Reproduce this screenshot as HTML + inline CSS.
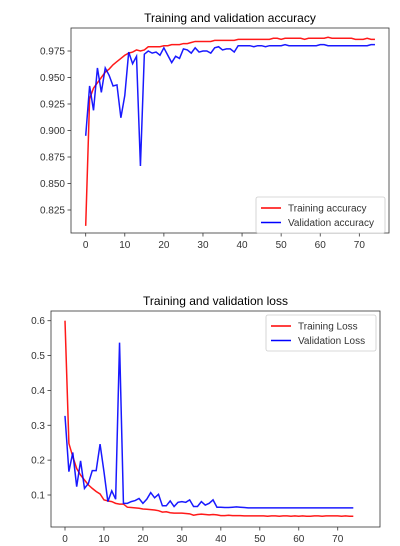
<!DOCTYPE html>
<html><head><meta charset="utf-8"><style>
body{margin:0;background:#fff;font-family:"Liberation Sans","DejaVu Sans",sans-serif}
svg{display:block}
</style></head><body>
<svg id="s" width="400" height="546" font-family="Liberation Sans, DejaVu Sans, sans-serif"></svg>
<script>
const epochs=[];for(let i=0;i<75;i++)epochs.push(i);
const accTrain=[0.81,0.93,0.94,0.945,0.95,0.955,0.958,0.962,0.965,0.968,0.971,0.973,0.974,0.976,0.975,0.976,0.979,0.979,0.979,0.979,0.980,0.980,0.981,0.981,0.981,0.982,0.982,0.983,0.984,0.984,0.984,0.984,0.984,0.985,0.985,0.985,0.985,0.985,0.985,0.986,0.986,0.986,0.986,0.986,0.986,0.986,0.986,0.986,0.987,0.987,0.986,0.987,0.987,0.987,0.987,0.987,0.986,0.987,0.987,0.987,0.987,0.987,0.988,0.987,0.987,0.987,0.987,0.987,0.987,0.986,0.986,0.986,0.987,0.986,0.986];
const accVal=[0.895,0.942,0.919,0.959,0.936,0.959,0.952,0.942,0.943,0.912,0.933,0.974,0.963,0.970,0.8665,0.972,0.975,0.973,0.974,0.971,0.978,0.971,0.964,0.970,0.968,0.977,0.976,0.973,0.978,0.974,0.975,0.975,0.973,0.978,0.979,0.976,0.977,0.977,0.974,0.980,0.980,0.980,0.980,0.979,0.980,0.980,0.979,0.980,0.980,0.980,0.980,0.981,0.980,0.980,0.980,0.980,0.980,0.980,0.980,0.980,0.981,0.981,0.980,0.980,0.980,0.980,0.980,0.980,0.980,0.980,0.980,0.980,0.980,0.981,0.981];
const lossTrain=[0.6,0.248,0.21,0.176,0.157,0.143,0.129,0.119,0.110,0.103,0.086,0.083,0.081,0.076,0.074,0.074,0.065,0.064,0.063,0.062,0.060,0.059,0.058,0.057,0.055,0.051,0.052,0.049,0.048,0.048,0.048,0.047,0.046,0.042,0.044,0.045,0.044,0.043,0.044,0.043,0.041,0.041,0.042,0.041,0.041,0.041,0.040,0.040,0.040,0.040,0.040,0.040,0.039,0.040,0.040,0.039,0.040,0.040,0.039,0.040,0.039,0.040,0.039,0.039,0.040,0.040,0.039,0.040,0.040,0.040,0.040,0.039,0.040,0.039,0.039];
const lossVal=[0.327,0.167,0.222,0.124,0.198,0.119,0.133,0.170,0.170,0.246,0.167,0.081,0.112,0.088,0.537,0.076,0.076,0.081,0.084,0.090,0.076,0.088,0.107,0.092,0.102,0.069,0.069,0.083,0.067,0.079,0.081,0.079,0.086,0.067,0.067,0.081,0.071,0.076,0.086,0.065,0.065,0.064,0.064,0.065,0.066,0.065,0.064,0.063,0.063,0.063,0.063,0.063,0.063,0.063,0.063,0.063,0.063,0.063,0.063,0.063,0.063,0.063,0.063,0.063,0.063,0.063,0.063,0.063,0.063,0.063,0.063,0.063,0.063,0.063,0.063];
const xTicks=[0,10,20,30,40,50,60,70];
const accTicks=[0.825,0.850,0.875,0.900,0.925,0.950,0.975];
const lossTicks=[0.1,0.2,0.3,0.4,0.5,0.6];
const NS='http://www.w3.org/2000/svg',svg=document.getElementById('s');
function el(t,a,p){const e=document.createElementNS(NS,t);for(const k in a)e.setAttribute(k,a[k]);(p||svg).appendChild(e);return e;}
function chart(o){
  const g=el('g',{});
  
  
  const X=v=>o.x0+(v-0)*o.xs, Y=v=>o.yRef-(v-o.vRef)*o.ys;
  const t=el('text',{x:(o.L+o.R)/2,y:o.T-6,'text-anchor':'middle','font-size':12,fill:'#000'},g);t.textContent=o.title;
  
  xTicks.forEach(v=>{el('line',{x1:X(v),x2:X(v),y1:o.B,y2:o.B+3.5,stroke:'#333','stroke-width':0.8},g);
    const l=el('text',{x:X(v),y:o.B+15,'text-anchor':'middle','font-size':10,fill:'#333'},g);l.textContent=v;
    });
  o.yt.forEach(v=>{el('line',{x1:o.L-3.5,x2:o.L,y1:Y(v),y2:Y(v),stroke:'#333','stroke-width':0.8},g);
    const l=el('text',{x:o.L-6,y:Y(v)+3.5,'text-anchor':'end','font-size':10,fill:'#333'},g);l.textContent=o.fmt(v);
    });
  [[o.s1,'red',o.n1],[o.s2,'blue',o.n2]].forEach(([s,c,n])=>{
    const p=el('polyline',{points:s.map((v,i)=>X(epochs[i])+','+Y(v)).join(' '),fill:'none',stroke:c,'stroke-width':1.5,'stroke-opacity':0.9},g);
    });
  const f=el('rect',{x:o.L,y:o.T,width:o.R-o.L,height:o.B-o.T,fill:'none',stroke:'#333','stroke-width':0.8},g);
  const lg=el('g',{},g);
  el('rect',{x:o.lx,y:o.ly,width:o.lw,height:36,rx:2,fill:'#fff',stroke:'#ccc','stroke-width':0.8},lg);
  [[o.l1,'red'],[o.l2,'blue']].forEach(([txt,c],i)=>{const yy=o.ly+11+i*14.5;
    el('line',{x1:o.lx+5,x2:o.lx+25,y1:yy,y2:yy,stroke:c,'stroke-width':1.5},lg);
    const tt=el('text',{x:o.lx+32,y:yy+3.5,'font-size':10,fill:'#333'},lg);tt.textContent=txt;
    });
}
chart({name:'accuracy-chart',title:'Training and validation accuracy',L:71,R:389,T:28,B:233,x0:85.7,xs:3.909,yRef:51,vRef:0.975,ys:26.5/0.025,yt:accTicks,fmt:v=>v.toFixed(3),
  s1:accTrain,s2:accVal,n1:'training-accuracy-line',n2:'validation-accuracy-line',l1:'Training accuracy',l2:'Validation accuracy',lx:256,ly:197,lw:129});
chart({name:'loss-chart',title:'Training and validation loss',L:51,R:380,T:311,B:527,x0:65,xs:3.896,yRef:495,vRef:0.1,ys:34.86/0.1,yt:lossTicks,fmt:v=>v.toFixed(1),
  s1:lossTrain,s2:lossVal,n1:'training-loss-line',n2:'validation-loss-line',l1:'Training Loss',l2:'Validation Loss',lx:266,ly:315,lw:110});
</script>
</body></html>
